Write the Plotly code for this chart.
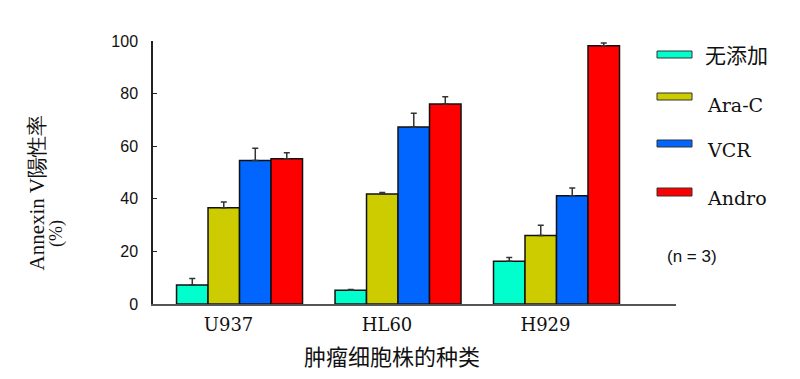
import plotly.graph_objects as go

categories = ["U937", "HL60", "H929"]
series_names = ["无添加", "Ara-C", "VCR", "Andro"]
series_colors = ["#00FFCC", "#CCCC00", "#0066FF", "#FF0000"]
val_none = [7.2, 5.2, 16.3]
val_arac = [36.6, 41.8, 26.0]
val_vcr = [54.6, 67.3, 41.2]
val_andro = [55.2, 76.0, 98.2]
err_none = [2.5, 0.3, 1.4]
err_arac = [2.2, 0.6, 3.9]
err_vcr = [4.6, 5.2, 2.9]
err_andro = [2.3, 2.8, 1.0]
y_ticks = [0, 20, 40, 60, 80, 100]

values = [val_none, val_arac, val_vcr, val_andro]
errors = [err_none, err_arac, err_vcr, err_andro]

W, H = 800, 379
OFF = 8  # body margin of the page
L, R, T, B = 153, 124, 41, 75   # in page pixels
PW, PH = W - L - R, H - T - B

def px(x):
    return (x - L) / PW

def py(y):
    return (H - B - y) / PH

SERIF = "Liberation Serif"
WSERIF = "DejaVu Serif"
SANS = "Liberation Sans"
CJK = "Noto Sans CJK SC"

fig = go.Figure()
for name, col, v, e in zip(series_names, series_colors, values, errors):
    fig.add_trace(go.Bar(
        x=categories, y=v, name=name, showlegend=False,
        marker=dict(color=col, line=dict(color="#111111", width=1.5)),
        error_y=dict(type="data", array=e, symmetric=False, arrayminus=[0]*len(e),
                     color="#333333", thickness=1.5, width=3),
    ))

fig.update_layout(
    width=W, height=H,
    margin=dict(l=L - OFF, r=R + OFF, t=T - OFF, b=B + OFF, autoexpand=False),
    paper_bgcolor="white", plot_bgcolor="white",
    barmode="group", bargap=0.205, bargroupgap=0,
    xaxis=dict(range=[-0.546, 2.754], showline=True, linecolor="#555555", linewidth=1.5,
               ticks="", showgrid=False, zeroline=False,
               tickfont=dict(family=WSERIF, size=18, color="#111111"),
               ticklabelshift=-11, ticklabelstandoff=4),
    yaxis=dict(range=[0, 100], tickvals=y_ticks, showline=True, linecolor="#222222",
               linewidth=1.5, ticks="inside", ticklen=4, tickcolor="#222222",
               showgrid=False, zeroline=False, ticklabelstandoff=10,
               tickfont=dict(family=SANS, size=16, color="#111111")),
)

def note(text, x, y, fam, size, angle=0, xanchor="center"):
    return dict(text=text, x=px(x), y=py(y), xref="paper", yref="paper",
                xanchor=xanchor, yanchor="middle", showarrow=False, textangle=angle,
                font=dict(family=fam, size=size, color="#111111"))

ann = []
ann.append(note("Annexin V陽性率", 36, 193.5, SERIF, 21, -90))
ann.append(note("(%)", 57, 234, SERIF, 18, -90))
ann.append(note("肿瘤细胞株的种类", 392, 355, CJK, 22))
ann.append(note("(n = 3)", 692, 256, SANS, 17))

legend_text_y = [54, 105, 150, 198]
legend_sw = [(51, 58), (93, 100), (140, 147), (188, 196)]
shapes = []
for name, col, ty, (s0, s1) in zip(series_names, series_colors, legend_text_y, legend_sw):
    shapes.append(dict(type="rect", xref="paper", yref="paper",
                       x0=px(657), x1=px(692), y0=py(s1), y1=py(s0),
                       fillcolor=col, line=dict(color="#333333", width=1)))
    if name == "无添加":
        ann.append(note(name, 703, ty, CJK, 21, xanchor="left"))
    else:
        ann.append(note(name, 705, ty, WSERIF, 19, xanchor="left"))

fig.update_layout(annotations=ann, shapes=shapes)
fig.write_html("out.html")
